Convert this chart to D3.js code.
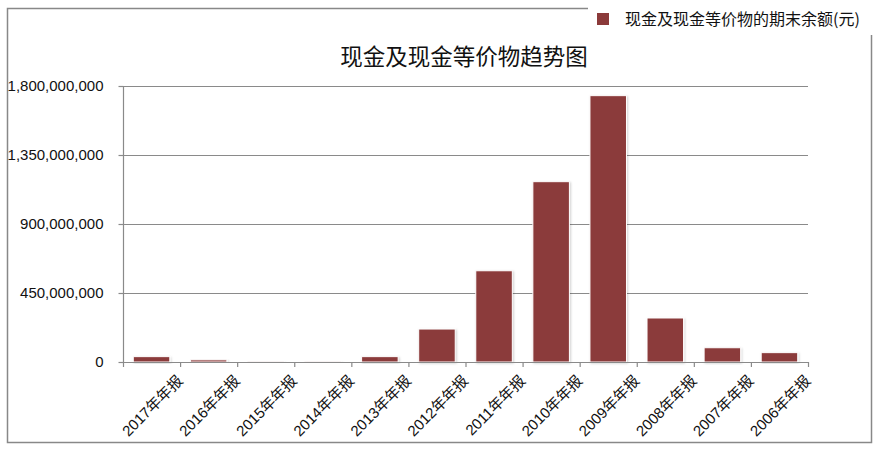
<!DOCTYPE html>
<html>
<head>
<meta charset="utf-8">
<script src="https://cdn.jsdelivr.net/npm/d3@7"></script>
<style>
  body { margin: 0; background: #fff; }
  .tick text { font-family: "Liberation Sans", Arial, sans-serif; }
</style>
</head>
<body>
<svg class="chart"></svg>
<script>
// data
var categories = ["2017年年报", "2016年年报", "2015年年报", "2014年年报", "2013年年报", "2012年年报",
                  "2011年年报", "2010年年报", "2009年年报", "2008年年报", "2007年年报", "2006年年报"];
var cashValues = [35000000, 14000000, 1000000, 2000000, 35000000, 215000000,
                  595000000, 1176000000, 1737000000, 287000000, 93000000, 61000000];
var yTicks = [0, 450000000, 900000000, 1350000000, 1800000000];
var seriesName = "现金及现金等价物的期末余额(元)";
var chartTitle = "现金及现金等价物趋势图";

var width = 880, height = 449;
var margin = {top: 86, right: 72, bottom: 87, left: 123};
var barColor = "#8b3a3a";
var axisColor = "#8a8a8a";

var svg = d3.select(".chart")
    .attr("width", width)
    .attr("height", height);

var defs = svg.append("defs");
var shadow = defs.append("filter").attr("id", "shadow")
    .attr("x", "-20%").attr("y", "-20%").attr("width", "140%").attr("height", "140%");
shadow.append("feDropShadow")
    .attr("dx", 1).attr("dy", 1).attr("stdDeviation", 1.2)
    .attr("flood-color", "#000").attr("flood-opacity", 0.18);

// outer frame
svg.append("rect")
    .attr("x", 7.5).attr("y", 8.5)
    .attr("width", 864).attr("height", 434)
    .attr("fill", "none")
    .attr("stroke", "#888")
    .attr("stroke-width", 1.5);

var xScale = d3.scaleBand()
    .domain(categories)
    .range([margin.left, width - margin.right])
    .paddingInner(0.36)
    .paddingOuter(0.18);

var yScale = d3.scaleLinear()
    .domain([0, 1800000000])
    .range([height - margin.bottom, margin.top]);

// gridlines
svg.append("g")
    .selectAll("line")
    .data(yTicks.slice(1))
    .enter()
    .append("line")
    .attr("x1", margin.left)
    .attr("x2", width - margin.right)
    .attr("y1", function(d) { return yScale(d) + 0.5; })
    .attr("y2", function(d) { return yScale(d) + 0.5; })
    .attr("stroke", axisColor)
    .attr("stroke-width", 1.2);

// y axis
var yAxis = d3.axisLeft(yScale)
    .tickValues(yTicks)
    .tickFormat(d3.format(","))
    .tickSize(5)
    .tickPadding(15);

var gY = svg.append("g")
    .attr("transform", "translate(" + (margin.left + 0.5) + ",0)")
    .call(yAxis);
gY.selectAll("path, line").attr("stroke", axisColor).attr("stroke-width", 1.2);
gY.select(".domain").attr("d", "M0," + margin.top + "V" + (yScale(0) + 0.5));
gY.selectAll("text").attr("font-size", 15).attr("fill", "#111");

// bars
svg.append("g")
    .selectAll("rect")
    .data(cashValues)
    .enter()
    .append("rect")
    .attr("x", function(d, i) { return xScale(categories[i]); })
    .attr("y", function(d) { return yScale(d); })
    .attr("width", xScale.bandwidth())
    .attr("height", function(d) { return yScale(0) - yScale(d); })
    .attr("fill", barColor)
    .attr("stroke", "#fff")
    .attr("stroke-width", 1)
    .attr("filter", "url(#shadow)");

// x axis with ticks on band edges
var step = xScale.step();
var edges = d3.range(categories.length + 1);
var gX = svg.append("g");
gX.append("line")
    .attr("x1", margin.left).attr("x2", width - margin.right)
    .attr("y1", yScale(0) + 0.5).attr("y2", yScale(0) + 0.5)
    .attr("stroke", axisColor).attr("stroke-width", 1.2);
gX.selectAll("line.edge")
    .data(edges)
    .enter()
    .append("line")
    .attr("class", "edge")
    .attr("x1", function(d) { return margin.left + d * step + 0.5; })
    .attr("x2", function(d) { return margin.left + d * step + 0.5; })
    .attr("y1", yScale(0))
    .attr("y2", yScale(0) + 5)
    .attr("stroke", axisColor).attr("stroke-width", 1.2);

gX.selectAll("text")
    .data(categories)
    .enter()
    .append("text")
    .attr("transform", function(d, i) {
        var x = margin.left + (i + 1) * step;
        return "translate(" + x + "," + (yScale(0) + 16) + ") rotate(-45)";
    })
    .attr("text-anchor", "end")
    .attr("dy", "0.35em")
    .attr("font-family", "'Liberation Sans', 'Noto Sans CJK SC', sans-serif")
    .attr("font-size", 15)
    .attr("fill", "#111")
    .text(function(d) { return d; });

// title
svg.append("text")
    .attr("x", 464)
    .attr("y", 65)
    .attr("text-anchor", "middle")
    .attr("font-family", "'Noto Sans CJK SC', sans-serif")
    .attr("font-size", 22.5)
    .attr("fill", "#111")
    .text(chartTitle);

// legend (covers the frame top edge)
var legend = svg.append("g");
legend.append("rect")
    .attr("x", 588).attr("y", 2)
    .attr("width", 286).attr("height", 33)
    .attr("fill", "#fff");
legend.append("rect")
    .attr("x", 597).attr("y", 13)
    .attr("width", 12).attr("height", 12)
    .attr("fill", barColor);
legend.append("text")
    .attr("x", 625).attr("y", 19)
    .attr("dy", "0.35em")
    .attr("font-family", "'Noto Sans CJK SC', sans-serif")
    .attr("font-size", 16)
    .attr("fill", "#111")
    .text(seriesName);
</script>
</body>
</html>
